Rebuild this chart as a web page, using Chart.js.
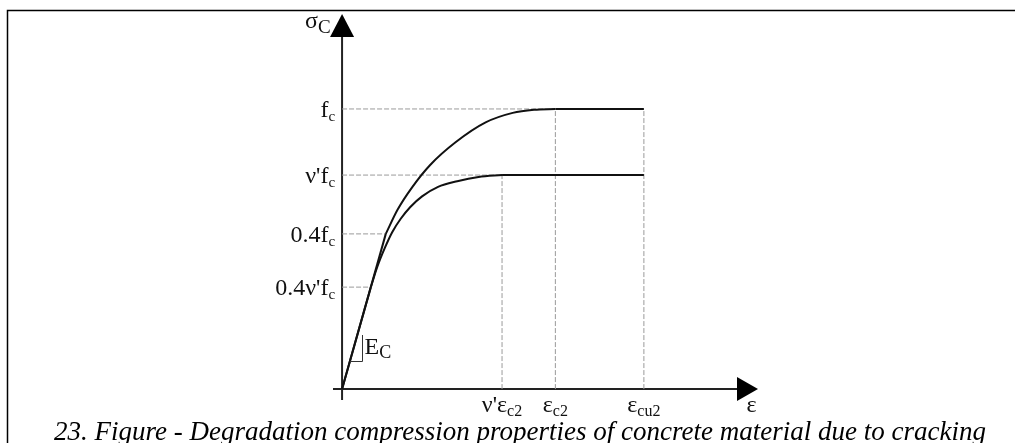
<!DOCTYPE html>
<html>
<head>
<meta charset="utf-8">
<script src="https://cdn.jsdelivr.net/npm/chart.js@4"></script>
<style>
  body { margin: 0; background: #fff; }
  canvas { display: block; }
</style>
</head>
<body>
<canvas id="chart" width="1015" height="443"></canvas>
<script>
// strain marks on the horizontal axis
const strainTicks = [1.5, 2.0, 2.83];
const strainLabels = [["ν'ε", 'c2'], ['ε', 'c2'], ['ε', 'cu2']];

// stress marks on the vertical axis
const stressTicks = [1.0, 0.764, 0.554, 0.364];
const stressLabels = [['f', 'c'], ["ν'f", 'c'], ['0.4f', 'c'], ["0.4ν'f", 'c']];

// uncracked concrete: elastic part up to 0.4fc, parabola, then plateau
const intactLinear = [[0, 0], [0.41, 0.554]];
const intactCurve = [[0.41, 0.554], [0.52, 0.640], [0.66, 0.722], [0.826, 0.800], [1.064, 0.881],
  [1.346, 0.952], [1.60, 0.986], [1.80, 0.997], [2.0, 1.0]];
const intactPlateau = [[2.0, 1.0], [2.83, 1.0]];

// cracked concrete (reduced by v')
const crackedLinear = [[0, 0], [0.27, 0.364]];
const crackedCurve = [[0.27, 0.364], [0.33, 0.436], [0.40, 0.503], [0.47, 0.560], [0.55, 0.608],
  [0.64, 0.650], [0.75, 0.688], [0.90, 0.722], [1.08, 0.742], [1.28, 0.757], [1.5, 0.764]];
const crackedPlateau = [[1.5, 0.764], [2.83, 0.764]];

const caption = '23. Figure - Degradation compression properties of concrete material due to cracking';

const xRange = [-0.085, 3.9];
const yRange = [-0.039, 1.339];

const pts = arr => arr.map(p => ({ x: p[0], y: p[1] }));

// dashed helper lines from the axes to the curves
const guides = [
  [[0, 1.0], [2.0, 1.0]],
  [[0, 0.764], [1.5, 0.764]],
  [[0, 0.554], [0.41, 0.554]],
  [[0, 0.364], [0.27, 0.364]],
  [[1.5, 0], [1.5, 0.764]],
  [[2.0, 0], [2.0, 1.0]],
  [[2.83, 0], [2.83, 1.0]]
];

const SERIF = '"Liberation Serif", "Times New Roman", serif';

function curve(data, smooth) {
  return {
    data: pts(data),
    borderColor: '#111',
    borderWidth: 2,
    tension: 0,
    cubicInterpolationMode: smooth ? 'monotone' : 'default'
  };
}

const datasets = [
  curve(intactLinear, false), curve(intactCurve, true), curve(intactPlateau, false),
  curve(crackedLinear, false), curve(crackedCurve, true), curve(crackedPlateau, false)
].concat(guides.map(g => ({
  data: pts(g),
  borderColor: '#9a9a9a',
  borderWidth: 1,
  borderDash: [5, 2]
})));

// text with a lowered subscript; align is 'left', 'right' or 'center'
function subText(ctx, x, y, main, sub, align, mainSize, subSize, drop) {
  ctx.font = mainSize + 'px ' + SERIF;
  const w1 = ctx.measureText(main).width;
  ctx.font = subSize + 'px ' + SERIF;
  const w2 = ctx.measureText(sub).width;
  let left = x;
  if (align === 'right') left = x - w1 - w2;
  if (align === 'center') left = x - (w1 + w2) / 2;
  ctx.textAlign = 'left';
  ctx.textBaseline = 'alphabetic';
  ctx.font = mainSize + 'px ' + SERIF;
  ctx.fillText(main, left, y);
  ctx.font = subSize + 'px ' + SERIF;
  ctx.fillText(sub, left + w1, y + drop);
}

const sketch = {
  id: 'sketch',
  beforeDatasetsDraw(chart) {
    const { ctx, scales: { x, y } } = chart;
    const ox = x.getPixelForValue(0);
    const oy = y.getPixelForValue(0);
    const top = y.getPixelForValue(yRange[1]);
    const right = x.getPixelForValue(xRange[1]);
    ctx.save();
    ctx.strokeStyle = '#222';
    ctx.fillStyle = '#000';
    ctx.lineWidth = 2;
    ctx.beginPath();
    ctx.moveTo(ox, y.getPixelForValue(yRange[0]));
    ctx.lineTo(ox, top + 20);
    ctx.moveTo(x.getPixelForValue(xRange[0]), oy);
    ctx.lineTo(right - 18, oy);
    ctx.stroke();
    // arrow heads
    ctx.beginPath();
    ctx.moveTo(ox, top);
    ctx.lineTo(ox + 12, top + 23);
    ctx.lineTo(ox - 12, top + 23);
    ctx.closePath();
    ctx.fill();
    ctx.beginPath();
    ctx.moveTo(right, oy);
    ctx.lineTo(right - 21, oy - 12);
    ctx.lineTo(right - 21, oy + 12);
    ctx.closePath();
    ctx.fill();
    ctx.restore();
  },
  afterDraw(chart) {
    const { ctx, scales: { x, y } } = chart;
    const ox = x.getPixelForValue(0);
    const oy = y.getPixelForValue(0);
    ctx.save();

    // frame
    ctx.strokeStyle = '#000';
    ctx.lineWidth = 1.5;
    ctx.beginPath();
    ctx.moveTo(7.5, 443);
    ctx.lineTo(7.5, 10.5);
    ctx.lineTo(1015, 10.5);
    ctx.stroke();

    ctx.fillStyle = '#111';

    // axis titles
    subText(ctx, ox - 37, 28, 'σ', 'C', 'left', 24, 19, 5);
    ctx.font = '24px ' + SERIF;
    ctx.textAlign = 'center';
    ctx.fillText('ε', x.getPixelForValue(3.84), oy + 23);

    stressTicks.forEach((v, i) => {
      subText(ctx, ox - 7, y.getPixelForValue(v) + 8, stressLabels[i][0], stressLabels[i][1], 'right', 24, 15, 4);
    });
    strainTicks.forEach((v, i) => {
      subText(ctx, x.getPixelForValue(v), oy + 23, strainLabels[i][0], strainLabels[i][1], 'center', 24, 16, 4);
    });

    // slope marker for Ec
    ctx.strokeStyle = '#333';
    ctx.lineWidth = 1;
    const bx = Math.round(x.getPixelForValue(0.183)) + 0.5;
    const by = Math.round(y.getPixelForValue(0.1)) + 0.5;
    ctx.beginPath();
    ctx.moveTo(x.getPixelForValue(0.073), by);
    ctx.lineTo(bx, by);
    ctx.lineTo(bx, y.getPixelForValue(0.193));
    ctx.stroke();
    subText(ctx, bx + 2, by - 8, 'E', 'C', 'left', 24, 18, 4);

    // caption
    ctx.fillStyle = '#000';
    ctx.font = 'italic 27px ' + SERIF;
    ctx.textAlign = 'center';
    ctx.textBaseline = 'alphabetic';
    ctx.fillText(caption, 520, 440);
    ctx.restore();
  }
};

new Chart(document.getElementById('chart').getContext('2d'), {
  type: 'line',
  data: { datasets: datasets },
  options: {
    responsive: false,
    animation: false,
    devicePixelRatio: 1,
    layout: { padding: { left: 333, right: 257, top: 14, bottom: 43 } },
    elements: { point: { radius: 0 } },
    plugins: { legend: { display: false }, tooltip: { enabled: false } },
    scales: {
      x: { type: 'linear', min: xRange[0], max: xRange[1], display: false },
      y: { type: 'linear', min: yRange[0], max: yRange[1], display: false }
    }
  },
  plugins: [sketch]
});
</script>
</body>
</html>
